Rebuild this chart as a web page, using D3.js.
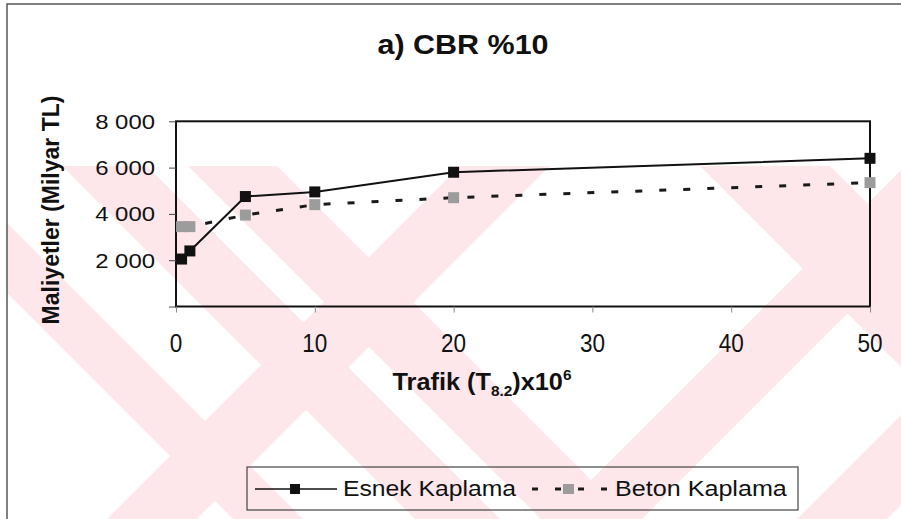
<!DOCTYPE html>
<html>
<head>
<meta charset="utf-8">
<script src="https://cdn.jsdelivr.net/npm/d3@7"></script>
<style>
  html, body { margin: 0; padding: 0; background: #fff; }
  svg { display: block; }
  text { font-family: "Liberation Sans", Arial, sans-serif; fill: #111; }
</style>
</head>
<body>
<svg id="chart" width="901" height="519"></svg>
<script>
// Construction cost versus traffic, CBR 10 %
const traffic      = [0.4, 1, 5, 10, 20, 50];          // T8.2 x 10^6
const esnekCost    = [2050, 2400, 4750, 4950, 5800, 6400];
const betonCost    = [3450, 3450, 3950, 4400, 4700, 5350];
const xTicks       = [0, 10, 20, 30, 40, 50];
const yTicks       = [2000, 4000, 6000, 8000];
const seriesNames  = ["Esnek Kaplama", "Beton Kaplama"];

const svg = d3.select("#chart");
const W = 901, H = 519;

// faint diagonal background bands (page watermark)
{
  const top = 166, depth = H - top;
  const band = (x0, w, dir) => {             // dir +1: "\"  dir -1: "/"
    const dx = dir * depth;
    return [[x0, top], [x0 + w, top], [x0 + w + dx, H], [x0 + dx, H]];
  };
  const bands = [band(62, 85, 1), band(188, 89, 1), band(460, 90, -1),
                 band(700, 130, 1), band(905, 90, -1), band(1150, 90, -1),
                 band(-120, 70, 1)];
  svg.append("clipPath").attr("id", "wm-clip")
    .append("rect").attr("x", 7).attr("y", top).attr("width", W - 7).attr("height", depth);
  svg.append("g").attr("clip-path", "url(#wm-clip)")
    .selectAll("path").data(bands).join("path")
    .attr("d", d => "M" + d.join("L") + "Z")
    .attr("fill", "#fde7eb");
}

// text helper: places text at (x, y), stretched horizontally by sx
function label(parent, x, y, str, o = {}) {
  const g = parent.append("g")
    .attr("transform", `translate(${x},${y})${o.rotate ? ` rotate(${o.rotate})` : ""} scale(${o.sx || 1},1)`);
  return g.append("text")
    .attr("text-anchor", o.anchor || "middle")
    .attr("font-size", o.size || 16)
    .attr("font-weight", o.weight || "normal")
    .text(str);
}

// outer frame
svg.append("path")
  .attr("d", `M7,${H} V4 H${W}`)
  .attr("fill", "none").attr("stroke", "#555").attr("stroke-width", 1.5);

const m = { left: 176, right: 870, top: 121.3, bottom: 306.5 };
const x = d3.scaleLinear().domain([0, 50]).range([m.left, m.right]);
const y = d3.scaleLinear().domain([0, 8000]).range([m.bottom, m.top]);

// plot frame
svg.append("rect")
  .attr("x", m.left).attr("y", m.top)
  .attr("width", m.right - m.left).attr("height", m.bottom - m.top)
  .attr("fill", "none").attr("stroke", "#111").attr("stroke-width", 2);

// axes
const fmt = d => d3.format(",")(d).replace(",", " ");
const yAxis = svg.append("g").attr("transform", `translate(${m.left},0)`)
  .call(d3.axisLeft(y).tickValues([0, ...yTicks]).tickSize(7).tickFormat(""));
yAxis.select(".domain").remove();
yAxis.selectAll(".tick line").attr("stroke", "#444").attr("stroke-width", 1);

const xAxis = svg.append("g").attr("transform", `translate(0,${m.bottom})`)
  .call(d3.axisBottom(x).tickValues(xTicks).tickSize(6).tickFormat(""));
xAxis.select(".domain").remove();
xAxis.selectAll(".tick line").attr("stroke", "#888").attr("stroke-width", 1);

yTicks.forEach(v => label(svg, 155, y(v) + 7.5, fmt(v), { anchor: "end", size: 21, sx: 1.14 }));
xTicks.forEach(v => label(svg, x(v), 352, String(v), { size: 25, sx: 0.9 }));

// title
label(svg, 463, 54, "a) CBR %10", { size: 28.5, weight: "bold", sx: 1.07 });

// y axis title
label(svg, 59, 210, "Maliyetler (Milyar TL)", { size: 23, weight: "bold", rotate: -90 });

// x axis title with subscript and superscript
{
  const g = svg.append("g").attr("transform", `translate(482,390) scale(1.1,1)`);
  const t = g.append("text").attr("text-anchor", "middle").attr("font-size", 23).attr("font-weight", "bold");
  t.append("tspan").text("Trafik (T");
  t.append("tspan").attr("font-size", 14).attr("dy", 6).text("8.2");
  t.append("tspan").attr("dy", -6).text(")x10");
  t.append("tspan").attr("font-size", 14).attr("dy", -10).text("6");
}

// series
const esnek = traffic.map((t, i) => ({ x: t, y: esnekCost[i] }));
const beton = traffic.map((t, i) => ({ x: t, y: betonCost[i] }));
const line = d3.line().x(d => x(d.x)).y(d => y(d.y));

svg.append("path").datum(beton).attr("d", line)
  .attr("fill", "none").attr("stroke", "#1a1a1a").attr("stroke-width", 3)
  .attr("stroke-dasharray", "7,17");
svg.append("g").selectAll("rect").data(beton).join("rect")
  .attr("x", d => x(d.x) - 5.5).attr("y", d => y(d.y) - 5.5)
  .attr("width", 11).attr("height", 11).attr("fill", "#9c9c9c");

svg.append("path").datum(esnek).attr("d", line)
  .attr("fill", "none").attr("stroke", "#111").attr("stroke-width", 2);
svg.append("g").selectAll("rect").data(esnek).join("rect")
  .attr("x", d => x(d.x) - 5.5).attr("y", d => y(d.y) - 5.5)
  .attr("width", 11).attr("height", 11).attr("fill", "#111");

// legend
const lg = svg.append("g");
lg.append("rect").attr("x", 247).attr("y", 467).attr("width", 551).attr("height", 43)
  .attr("fill", "none").attr("stroke", "#444").attr("stroke-width", 1.2);
lg.append("line").attr("x1", 255).attr("x2", 337).attr("y1", 489).attr("y2", 489)
  .attr("stroke", "#111").attr("stroke-width", 1.5);
lg.append("rect").attr("x", 290).attr("y", 484).attr("width", 10).attr("height", 10).attr("fill", "#111");
label(lg, 343, 496, seriesNames[0], { anchor: "start", size: 21.5, sx: 1.15 });
lg.append("line").attr("x1", 532).attr("x2", 612).attr("y1", 489).attr("y2", 489)
  .attr("stroke", "#1a1a1a").attr("stroke-width", 3).attr("stroke-dasharray", "6,17");
lg.append("rect").attr("x", 563).attr("y", 484).attr("width", 11).attr("height", 10).attr("fill", "#9c9c9c");
label(lg, 615, 496, seriesNames[1], { anchor: "start", size: 21.5, sx: 1.17 });
</script>
</body>
</html>
